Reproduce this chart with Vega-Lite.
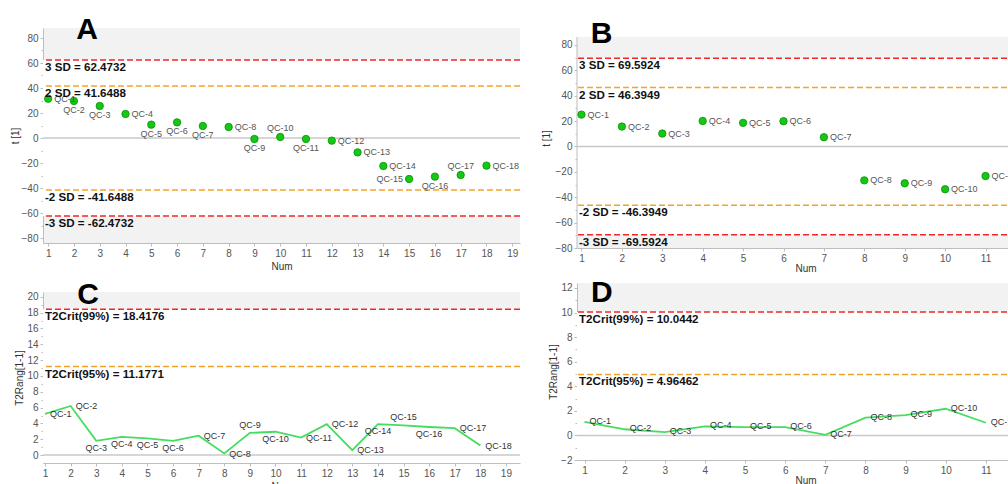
{
"$schema": "https://vega.github.io/schema/vega-lite/v6.json",
"padding": {"left": 10, "top": 15, "right": 0, "bottom": 0},
"config": {
  "font": "Liberation Sans",
  "view": {"fill": "#f2f2f2", "stroke": null},
  "axis": {"grid": false, "domainColor": "#bdbdbd", "tickColor": "#bdbdbd", "tickSize": 3, "tickCount": 60, "format": "d", "labelFontSize": 10, "labelColor": "#555555", "titleFontSize": 10, "titleFontWeight": "normal", "titleColor": "#333333", "labelPadding": 2, "labelFlush": false, "labelOverlap": false},
  "axisX": {"titlePadding": 3}
},
"datasets": {
  "A_pts": [
    {"num":1,"t":31.4,"label":"QC-1"},{"num":2,"t":29.6,"label":"QC-2"},{"num":3,"t":25.6,"label":"QC-3"},{"num":4,"t":19.2,"label":"QC-4"},
    {"num":5,"t":10.7,"label":"QC-5"},{"num":6,"t":12.5,"label":"QC-6"},{"num":7,"t":9.6,"label":"QC-7"},{"num":8,"t":8.8,"label":"QC-8"},
    {"num":9,"t":-0.8,"label":"QC-9"},{"num":10,"t":0.8,"label":"QC-10"},{"num":11,"t":-0.8,"label":"QC-11"},{"num":12,"t":-2.1,"label":"QC-12"},
    {"num":13,"t":-11.5,"label":"QC-13"},{"num":14,"t":-22.4,"label":"QC-14"},{"num":15,"t":-32.8,"label":"QC-15"},{"num":16,"t":-30.9,"label":"QC-16"},
    {"num":17,"t":-29.6,"label":"QC-17"},{"num":18,"t":-22.1,"label":"QC-18"}],
  "A_lim": [
    {"t":62.4732,"level":"3 SD","text":"3 SD = 62.4732"},{"t":41.6488,"level":"2 SD","text":"2 SD = 41.6488"},
    {"t":-41.6488,"level":"2 SD","text":"-2 SD = -41.6488"},{"t":-62.4732,"level":"3 SD","text":"-3 SD = -62.4732"}],
  "B_pts": [
    {"num":1,"t":25.1,"label":"QC-1"},{"num":2,"t":15.7,"label":"QC-2"},{"num":3,"t":10.2,"label":"QC-3"},{"num":4,"t":20.1,"label":"QC-4"},
    {"num":5,"t":18.6,"label":"QC-5"},{"num":6,"t":19.9,"label":"QC-6"},{"num":7,"t":7.3,"label":"QC-7"},{"num":8,"t":-26.7,"label":"QC-8"},
    {"num":9,"t":-29.0,"label":"QC-9"},{"num":10,"t":-33.7,"label":"QC-10"},{"num":11,"t":-23.3,"label":"QC-11"}],
  "B_lim": [
    {"t":69.5924,"level":"3 SD","text":"3 SD = 69.5924"},{"t":46.3949,"level":"2 SD","text":"2 SD = 46.3949"},
    {"t":-46.3949,"level":"2 SD","text":"-2 SD = -46.3949"},{"t":-69.5924,"level":"3 SD","text":"-3 SD = -69.5924"}],
  "C_pts": [
    {"num":1,"t2":5.2,"label":"QC-1"},{"num":2,"t2":6.2,"label":"QC-2"},{"num":3,"t2":1.8,"label":"QC-3"},{"num":4,"t2":2.3,"label":"QC-4"},
    {"num":5,"t2":2.1,"label":"QC-5"},{"num":6,"t2":1.8,"label":"QC-6"},{"num":7,"t2":2.45,"label":"QC-7"},{"num":8,"t2":0.2,"label":"QC-8"},
    {"num":9,"t2":2.8,"label":"QC-9"},{"num":10,"t2":2.95,"label":"QC-10"},{"num":11,"t2":2.2,"label":"QC-11"},{"num":12,"t2":3.9,"label":"QC-12"},
    {"num":13,"t2":0.63,"label":"QC-13"},{"num":14,"t2":3.9,"label":"QC-14"},{"num":15,"t2":3.75,"label":"QC-15"},{"num":16,"t2":3.55,"label":"QC-16"},
    {"num":17,"t2":3.4,"label":"QC-17"},{"num":18,"t2":1.2,"label":"QC-18"}],
  "C_lim": [
    {"t2":18.4176,"level":"99%","text":"T2Crit(99%) = 18.4176"},{"t2":11.1771,"level":"95%","text":"T2Crit(95%) = 11.1771"}],
  "D_pts": [
    {"num":1,"t2":1.1,"label":"QC-1"},{"num":2,"t2":0.5,"label":"QC-2"},{"num":3,"t2":0.27,"label":"QC-3"},{"num":4,"t2":0.73,"label":"QC-4"},
    {"num":5,"t2":0.68,"label":"QC-5"},{"num":6,"t2":0.68,"label":"QC-6"},{"num":7,"t2":0.05,"label":"QC-7"},{"num":8,"t2":1.44,"label":"QC-8"},
    {"num":9,"t2":1.65,"label":"QC-9"},{"num":10,"t2":2.17,"label":"QC-10"},{"num":11,"t2":1.03,"label":"QC-11"}],
  "D_lim": [
    {"t2":10.0442,"level":"99%","text":"T2Crit(99%) = 10.0442"},{"t2":4.96462,"level":"95%","text":"T2Crit(95%) = 4.96462"}]
},
"spacing": 20,
"hconcat": [
 {"vconcat": [
  {"width": 477, "height": 215,
   "layer": [
    {"data": {"values": [{}]}, "mark": {"type": "rect", "fill": "#ffffff"},
     "encoding": {"x": {"datum": 0.8, "type": "quantitative", "scale": {"domain": [0.8,19.3], "nice": false, "zero": false}}, "x2": {"datum": 19.3},
                  "y": {"datum": -62.4732, "type": "quantitative", "scale": {"domain": [-84,88], "nice": false, "zero": false}}, "y2": {"datum": 62.4732}}},
    {"data": {"values": [{}]}, "mark": {"type": "rule", "color": "#c8c8c8", "strokeWidth": 1.5},
     "encoding": {"y": {"datum": 0, "type": "quantitative", "scale": {"domain": [-84,88], "nice": false, "zero": false}}}},
    {"data": {"name": "A_lim"}, "transform": [{"filter": "datum.level == '3 SD'"}], "mark": {"type": "rule", "color": "#f02828", "strokeWidth": 1.5, "strokeDash": [6,3]},
     "encoding": {"y": {"field": "t", "type": "quantitative", "title": "t [1]", "scale": {"domain": [-84,88], "nice": false, "zero": false}}}},
    {"data": {"name": "A_lim"}, "transform": [{"filter": "datum.level == '2 SD'"}], "mark": {"type": "rule", "color": "#f2a52a", "strokeWidth": 1.5, "strokeDash": [6,3]},
     "encoding": {"y": {"field": "t", "type": "quantitative", "title": "t [1]", "scale": {"domain": [-84,88], "nice": false, "zero": false}}}},
    {"data": {"name": "A_pts"}, "mark": {"type": "circle", "color": "#14c814", "stroke": "#0a900a", "strokeWidth": 0.8, "size": 55, "opacity": 1},
     "encoding": {"x": {"field": "num", "type": "quantitative", "scale": {"domain": [0.8,19.3], "nice": false, "zero": false},
                        "axis": {"values": [1,1.5,2,2.5,3,3.5,4,4.5,5,5.5,6,6.5,7,7.5,8,8.5,9,9.5,10,10.5,11,11.5,12,12.5,13,13.5,14,14.5,15,15.5,16,16.5,17,17.5,18,18.5,19], "tickCount": 60, "format": "d", "labelExpr": "datum.value % 1 === 0 ? datum.label : ''", "tickSize": {"condition": {"test": "datum.value % 1 === 0", "value": 3}, "value": 2}, "title": "Num", "labelOverlap": false}},
                  "y": {"field": "t", "type": "quantitative", "scale": {"domain": [-84,88], "nice": false, "zero": false},
                        "axis": {"values": [-80,-70,-60,-50,-40,-30,-20,-10,0,10,20,30,40,50,60,70,80], "tickCount": 60, "format": "d", "labelExpr": "datum.value % 20 === 0 ? datum.label : ''", "tickSize": {"condition": {"test": "datum.value % 20 === 0", "value": 3}, "value": 2}, "title": "t [1]", "titlePadding": 1, "labelOverlap": false}}}},
    {"data": {"name": "A_pts"}, "transform": [{"filter": {"field": "label", "oneOf": ["QC-1","QC-4","QC-8","QC-12","QC-13","QC-14","QC-18"]}}],
     "mark": {"type": "text", "align": "left", "baseline": "middle", "dx": 6, "fontSize": 9, "color": "#555555"},
     "encoding": {"x": {"field": "num", "type": "quantitative", "title": "Num", "scale": {"domain": [0.8,19.3], "nice": false, "zero": false}}, "y": {"field": "t", "type": "quantitative", "title": "t [1]", "scale": {"domain": [-84,88], "nice": false, "zero": false}}, "text": {"field": "label"}}},
    {"data": {"name": "A_pts"}, "transform": [{"filter": {"field": "label", "oneOf": ["QC-2","QC-3","QC-5","QC-6","QC-7","QC-9","QC-11","QC-16"]}}],
     "mark": {"type": "text", "align": "center", "baseline": "middle", "dy": 9, "fontSize": 9, "color": "#555555"},
     "encoding": {"x": {"field": "num", "type": "quantitative", "title": "Num", "scale": {"domain": [0.8,19.3], "nice": false, "zero": false}}, "y": {"field": "t", "type": "quantitative", "title": "t [1]", "scale": {"domain": [-84,88], "nice": false, "zero": false}}, "text": {"field": "label"}}},
    {"data": {"name": "A_pts"}, "transform": [{"filter": {"field": "label", "oneOf": ["QC-10","QC-17"]}}],
     "mark": {"type": "text", "align": "center", "baseline": "middle", "dy": -9.5, "fontSize": 9, "color": "#555555"},
     "encoding": {"x": {"field": "num", "type": "quantitative", "title": "Num", "scale": {"domain": [0.8,19.3], "nice": false, "zero": false}}, "y": {"field": "t", "type": "quantitative", "title": "t [1]", "scale": {"domain": [-84,88], "nice": false, "zero": false}}, "text": {"field": "label"}}},
    {"data": {"name": "A_pts"}, "transform": [{"filter": {"field": "label", "oneOf": ["QC-15"]}}],
     "mark": {"type": "text", "align": "right", "baseline": "middle", "dx": -6, "fontSize": 9, "color": "#555555"},
     "encoding": {"x": {"field": "num", "type": "quantitative", "title": "Num", "scale": {"domain": [0.8,19.3], "nice": false, "zero": false}}, "y": {"field": "t", "type": "quantitative", "title": "t [1]", "scale": {"domain": [-84,88], "nice": false, "zero": false}}, "text": {"field": "label"}}},
    {"data": {"name": "A_lim"}, "mark": {"type": "text", "align": "left", "baseline": "top", "dx": 2, "dy": 2, "fontSize": 11.6, "fontWeight": "bold", "color": "#111111"},
     "encoding": {"x": {"datum": 0.8, "type": "quantitative", "scale": {"domain": [0.8,19.3], "nice": false, "zero": false}}, "y": {"field": "t", "type": "quantitative", "title": "t [1]", "scale": {"domain": [-84,88], "nice": false, "zero": false}}, "text": {"field": "text"}}},
    {"data": {"values": [{}]}, "mark": {"type": "text", "text": "A", "fontSize": 30, "fontWeight": "bold", "align": "center", "baseline": "alphabetic", "color": "#000000"},
     "encoding": {"x": {"datum": 2.51, "type": "quantitative", "scale": {"domain": [0.8,19.3], "nice": false, "zero": false}}, "y": {"datum": 79.2, "type": "quantitative", "scale": {"domain": [-84,88], "nice": false, "zero": false}}}}
   ]},
  {"width": 477, "height": 171,
   "layer": [
    {"data": {"values": [{}]}, "mark": {"type": "rect", "fill": "#ffffff"},
     "encoding": {"x": {"datum": 0.92, "type": "quantitative", "scale": {"domain": [0.92,19.55], "nice": false, "zero": false}}, "x2": {"datum": 19.55},
                  "y": {"datum": -1, "type": "quantitative", "scale": {"domain": [-1,20.6], "nice": false, "zero": false}}, "y2": {"datum": 18.4176}}},
    {"data": {"values": [{}]}, "mark": {"type": "rule", "color": "#c8c8c8", "strokeWidth": 1.5},
     "encoding": {"y": {"datum": 0, "type": "quantitative", "scale": {"domain": [-1,20.6], "nice": false, "zero": false}}}},
    {"data": {"name": "C_lim"}, "transform": [{"filter": "datum.level == '99%'"}], "mark": {"type": "rule", "color": "#f02828", "strokeWidth": 1.5, "strokeDash": [6,3]},
     "encoding": {"y": {"field": "t2", "type": "quantitative", "title": "T2Rang[1-1]", "scale": {"domain": [-1,20.6], "nice": false, "zero": false}}}},
    {"data": {"name": "C_lim"}, "transform": [{"filter": "datum.level == '95%'"}], "mark": {"type": "rule", "color": "#f2a52a", "strokeWidth": 1.5, "strokeDash": [6,3]},
     "encoding": {"y": {"field": "t2", "type": "quantitative", "title": "T2Rang[1-1]", "scale": {"domain": [-1,20.6], "nice": false, "zero": false}}}},
    {"data": {"name": "C_pts"}, "mark": {"type": "line", "color": "#45dd60", "strokeWidth": 1.8},
     "encoding": {"x": {"field": "num", "type": "quantitative", "scale": {"domain": [0.92,19.55], "nice": false, "zero": false},
                        "axis": {"values": [1,1.5,2,2.5,3,3.5,4,4.5,5,5.5,6,6.5,7,7.5,8,8.5,9,9.5,10,10.5,11,11.5,12,12.5,13,13.5,14,14.5,15,15.5,16,16.5,17,17.5,18,18.5,19,19.5], "tickCount": 60, "format": "d", "labelExpr": "datum.value % 1 === 0 ? datum.label : ''", "tickSize": {"condition": {"test": "datum.value % 1 === 0", "value": 3}, "value": 2}, "title": "Num", "labelOverlap": false}},
                  "y": {"field": "t2", "type": "quantitative", "scale": {"domain": [-1,20.6], "nice": false, "zero": false},
                        "axis": {"values": [0,1,2,3,4,5,6,7,8,9,10,11,12,13,14,15,16,17,18,19,20], "tickCount": 60, "format": "d", "labelExpr": "datum.value % 2 === 0 ? datum.label : ''", "tickSize": {"condition": {"test": "datum.value % 2 === 0", "value": 3}, "value": 2}, "title": "T2Rang[1-1]", "titlePadding": 2, "labelOverlap": false}}}},
    {"data": {"name": "C_pts"}, "transform": [{"filter": {"field": "label", "oneOf": ["QC-1","QC-2","QC-7","QC-8","QC-11","QC-12","QC-13","QC-17","QC-18"]}}],
     "mark": {"type": "text", "align": "left", "baseline": "middle", "dx": 5, "fontSize": 9, "color": "#333333"},
     "encoding": {"x": {"field": "num", "type": "quantitative", "title": "Num", "scale": {"domain": [0.92,19.55], "nice": false, "zero": false}}, "y": {"field": "t2", "type": "quantitative", "title": "T2Rang[1-1]", "scale": {"domain": [-1,20.6], "nice": false, "zero": false}}, "text": {"field": "label"}}},
    {"data": {"name": "C_pts"}, "transform": [{"filter": {"field": "label", "oneOf": ["QC-3","QC-4","QC-5","QC-6","QC-10","QC-14","QC-16"]}}],
     "mark": {"type": "text", "align": "center", "baseline": "middle", "dy": 7, "fontSize": 9, "color": "#333333"},
     "encoding": {"x": {"field": "num", "type": "quantitative", "title": "Num", "scale": {"domain": [0.92,19.55], "nice": false, "zero": false}}, "y": {"field": "t2", "type": "quantitative", "title": "T2Rang[1-1]", "scale": {"domain": [-1,20.6], "nice": false, "zero": false}}, "text": {"field": "label"}}},
    {"data": {"name": "C_pts"}, "transform": [{"filter": {"field": "label", "oneOf": ["QC-9","QC-15"]}}],
     "mark": {"type": "text", "align": "center", "baseline": "middle", "dy": -8, "fontSize": 9, "color": "#333333"},
     "encoding": {"x": {"field": "num", "type": "quantitative", "title": "Num", "scale": {"domain": [0.92,19.55], "nice": false, "zero": false}}, "y": {"field": "t2", "type": "quantitative", "title": "T2Rang[1-1]", "scale": {"domain": [-1,20.6], "nice": false, "zero": false}}, "text": {"field": "label"}}},
    {"data": {"name": "C_lim"}, "mark": {"type": "text", "align": "left", "baseline": "top", "dx": 2, "dy": 2, "fontSize": 11.6, "fontWeight": "bold", "color": "#111111"},
     "encoding": {"x": {"datum": 0.92, "type": "quantitative", "scale": {"domain": [0.92,19.55], "nice": false, "zero": false}}, "y": {"field": "t2", "type": "quantitative", "title": "T2Rang[1-1]", "scale": {"domain": [-1,20.6], "nice": false, "zero": false}}, "text": {"field": "text"}}},
    {"data": {"values": [{}]}, "mark": {"type": "text", "text": "C", "fontSize": 30, "fontWeight": "bold", "align": "center", "baseline": "alphabetic", "color": "#000000"},
     "encoding": {"x": {"datum": 2.68, "type": "quantitative", "scale": {"domain": [0.92,19.55], "nice": false, "zero": false}}, "y": {"datum": 19.1, "type": "quantitative", "scale": {"domain": [-1,20.6], "nice": false, "zero": false}}}}
   ]}
 ], "spacing": 49, "bounds": "flush"},
 {"vconcat": [
  {"width": 457, "height": 220, "view": {"fill": "#ffffff", "stroke": null},
   "layer": [
    {"data": {"values": [{}]}, "mark": {"type": "rect", "fill": "#f2f2f2"},
     "encoding": {"x": {"datum": 0.889, "type": "quantitative", "scale": {"domain": [0.889,12.2], "nice": false, "zero": false}}, "x2": {"datum": 12.2},
                  "y": {"datum": -80, "type": "quantitative", "scale": {"domain": [-80,93.36], "nice": false, "zero": false}}, "y2": {"datum": 86.3}}},
    {"data": {"values": [{}]}, "mark": {"type": "rect", "fill": "#ffffff"},
     "encoding": {"x": {"datum": 0.889, "type": "quantitative", "scale": {"domain": [0.889,12.2], "nice": false, "zero": false}}, "x2": {"datum": 12.2},
                  "y": {"datum": -69.5924, "type": "quantitative", "scale": {"domain": [-80,93.36], "nice": false, "zero": false}}, "y2": {"datum": 69.5924}}},
    {"data": {"values": [{}]}, "mark": {"type": "rule", "color": "#bdbdbd", "strokeWidth": 1},
     "encoding": {"x": {"datum": 0.889, "type": "quantitative", "scale": {"domain": [0.889,12.2], "nice": false, "zero": false}},
                  "y": {"datum": -80, "type": "quantitative", "scale": {"domain": [-80,93.36], "nice": false, "zero": false}}, "y2": {"datum": 86.3}}},
    {"data": {"values": [{}]}, "mark": {"type": "rule", "color": "#c8c8c8", "strokeWidth": 1.5},
     "encoding": {"y": {"datum": 0, "type": "quantitative", "scale": {"domain": [-80,93.36], "nice": false, "zero": false}}}},
    {"data": {"name": "B_lim"}, "transform": [{"filter": "datum.level == '3 SD'"}], "mark": {"type": "rule", "color": "#f02828", "strokeWidth": 1.5, "strokeDash": [6,3]},
     "encoding": {"y": {"field": "t", "type": "quantitative", "title": "t [1]", "scale": {"domain": [-80,93.36], "nice": false, "zero": false}}}},
    {"data": {"name": "B_lim"}, "transform": [{"filter": "datum.level == '2 SD'"}], "mark": {"type": "rule", "color": "#f2a52a", "strokeWidth": 1.5, "strokeDash": [6,3]},
     "encoding": {"y": {"field": "t", "type": "quantitative", "title": "t [1]", "scale": {"domain": [-80,93.36], "nice": false, "zero": false}}}},
    {"data": {"name": "B_pts"}, "mark": {"type": "circle", "color": "#14c814", "stroke": "#0a900a", "strokeWidth": 0.8, "size": 55, "opacity": 1},
     "encoding": {"x": {"field": "num", "type": "quantitative", "scale": {"domain": [0.889,12.2], "nice": false, "zero": false},
                        "axis": {"values": [1,1.5,2,2.5,3,3.5,4,4.5,5,5.5,6,6.5,7,7.5,8,8.5,9,9.5,10,10.5,11,11.5,12], "tickCount": 60, "format": "d", "labelExpr": "datum.value % 1 === 0 ? datum.label : ''", "tickSize": {"condition": {"test": "datum.value % 1 === 0", "value": 3}, "value": 2}, "title": "Num", "titlePadding": 0, "labelOverlap": false}},
                  "y": {"field": "t", "type": "quantitative", "scale": {"domain": [-80,93.36], "nice": false, "zero": false},
                        "axis": {"values": [-80,-70,-60,-50,-40,-30,-20,-10,0,10,20,30,40,50,60,70,80], "tickCount": 60, "format": "d", "labelExpr": "datum.value % 20 === 0 ? datum.label : ''", "tickSize": {"condition": {"test": "datum.value % 20 === 0", "value": 3}, "value": 2}, "title": "t [1]", "titlePadding": 4, "domain": false, "labelOverlap": false}}}},
    {"data": {"name": "B_pts"},
     "mark": {"type": "text", "align": "left", "baseline": "middle", "dx": 6, "fontSize": 9, "color": "#555555"},
     "encoding": {"x": {"field": "num", "type": "quantitative", "title": "Num", "scale": {"domain": [0.889,12.2], "nice": false, "zero": false}}, "y": {"field": "t", "type": "quantitative", "title": "t [1]", "scale": {"domain": [-80,93.36], "nice": false, "zero": false}}, "text": {"field": "label"}}},
    {"data": {"name": "B_lim"}, "mark": {"type": "text", "align": "left", "baseline": "top", "dx": 2, "dy": 2, "fontSize": 11.6, "fontWeight": "bold", "color": "#111111"},
     "encoding": {"x": {"datum": 0.889, "type": "quantitative", "scale": {"domain": [0.889,12.2], "nice": false, "zero": false}}, "y": {"field": "t", "type": "quantitative", "title": "t [1]", "scale": {"domain": [-80,93.36], "nice": false, "zero": false}}, "text": {"field": "text"}}},
    {"data": {"values": [{}]}, "mark": {"type": "text", "text": "B", "fontSize": 30, "fontWeight": "bold", "align": "center", "baseline": "alphabetic", "color": "#000000"},
     "encoding": {"x": {"datum": 1.5, "type": "quantitative", "scale": {"domain": [0.889,12.2], "nice": false, "zero": false}}, "y": {"datum": 81.6, "type": "quantitative", "scale": {"domain": [-80,93.36], "nice": false, "zero": false}}}}
   ]},
  {"width": 457, "height": 177,
   "layer": [
    {"data": {"values": [{}]}, "mark": {"type": "rect", "fill": "#ffffff"},
     "encoding": {"x": {"datum": 0.813, "type": "quantitative", "scale": {"domain": [0.813,12.2], "nice": false, "zero": false}}, "x2": {"datum": 12.2},
                  "y": {"datum": -2, "type": "quantitative", "scale": {"domain": [-2,12.4], "nice": false, "zero": false}}, "y2": {"datum": 10.0442}}},
    {"data": {"values": [{}]}, "mark": {"type": "rule", "color": "#c8c8c8", "strokeWidth": 1.5},
     "encoding": {"y": {"datum": 0, "type": "quantitative", "scale": {"domain": [-2,12.4], "nice": false, "zero": false}}}},
    {"data": {"name": "D_lim"}, "transform": [{"filter": "datum.level == '99%'"}], "mark": {"type": "rule", "color": "#f02828", "strokeWidth": 1.5, "strokeDash": [6,3]},
     "encoding": {"y": {"field": "t2", "type": "quantitative", "title": "T2Rang[1-1]", "scale": {"domain": [-2,12.4], "nice": false, "zero": false}}}},
    {"data": {"name": "D_lim"}, "transform": [{"filter": "datum.level == '95%'"}], "mark": {"type": "rule", "color": "#f2a52a", "strokeWidth": 1.5, "strokeDash": [6,3]},
     "encoding": {"y": {"field": "t2", "type": "quantitative", "title": "T2Rang[1-1]", "scale": {"domain": [-2,12.4], "nice": false, "zero": false}}}},
    {"data": {"name": "D_pts"}, "mark": {"type": "line", "color": "#45dd60", "strokeWidth": 1.8},
     "encoding": {"x": {"field": "num", "type": "quantitative", "scale": {"domain": [0.813,12.2], "nice": false, "zero": false},
                        "axis": {"values": [1,1.5,2,2.5,3,3.5,4,4.5,5,5.5,6,6.5,7,7.5,8,8.5,9,9.5,10,10.5,11,11.5,12], "tickCount": 60, "format": "d", "labelExpr": "datum.value % 1 === 0 ? datum.label : ''", "tickSize": {"condition": {"test": "datum.value % 1 === 0", "value": 3}, "value": 2}, "title": "Num", "titlePadding": 0, "labelOverlap": false}},
                  "y": {"field": "t2", "type": "quantitative", "scale": {"domain": [-2,12.4], "nice": false, "zero": false},
                        "axis": {"values": [-2,-1,0,1,2,3,4,5,6,7,8,9,10,11,12], "tickCount": 60, "format": "d", "labelExpr": "datum.value % 2 === 0 ? datum.label : ''", "tickSize": {"condition": {"test": "datum.value % 2 === 0", "value": 3}, "value": 2}, "title": "T2Rang[1-1]", "titlePadding": 2, "labelOverlap": false}}}},
    {"data": {"name": "D_pts"},
     "mark": {"type": "text", "align": "left", "baseline": "middle", "dx": 5, "dy": -1, "fontSize": 9, "color": "#333333"},
     "encoding": {"x": {"field": "num", "type": "quantitative", "title": "Num", "scale": {"domain": [0.813,12.2], "nice": false, "zero": false}}, "y": {"field": "t2", "type": "quantitative", "title": "T2Rang[1-1]", "scale": {"domain": [-2,12.4], "nice": false, "zero": false}}, "text": {"field": "label"}}},
    {"data": {"name": "D_lim"}, "mark": {"type": "text", "align": "left", "baseline": "top", "dx": 2, "dy": 2, "fontSize": 11.6, "fontWeight": "bold", "color": "#111111"},
     "encoding": {"x": {"datum": 0.813, "type": "quantitative", "scale": {"domain": [0.813,12.2], "nice": false, "zero": false}}, "y": {"field": "t2", "type": "quantitative", "title": "T2Rang[1-1]", "scale": {"domain": [-2,12.4], "nice": false, "zero": false}}, "text": {"field": "text"}}},
    {"data": {"values": [{}]}, "mark": {"type": "text", "text": "D", "fontSize": 30, "fontWeight": "bold", "align": "center", "baseline": "alphabetic", "color": "#000000"},
     "encoding": {"x": {"datum": 1.43, "type": "quantitative", "scale": {"domain": [0.813,12.2], "nice": false, "zero": false}}, "y": {"datum": 10.86, "type": "quantitative", "scale": {"domain": [-2,12.4], "nice": false, "zero": false}}}}
   ]}
 ], "spacing": 35, "bounds": "flush"}
]
}
